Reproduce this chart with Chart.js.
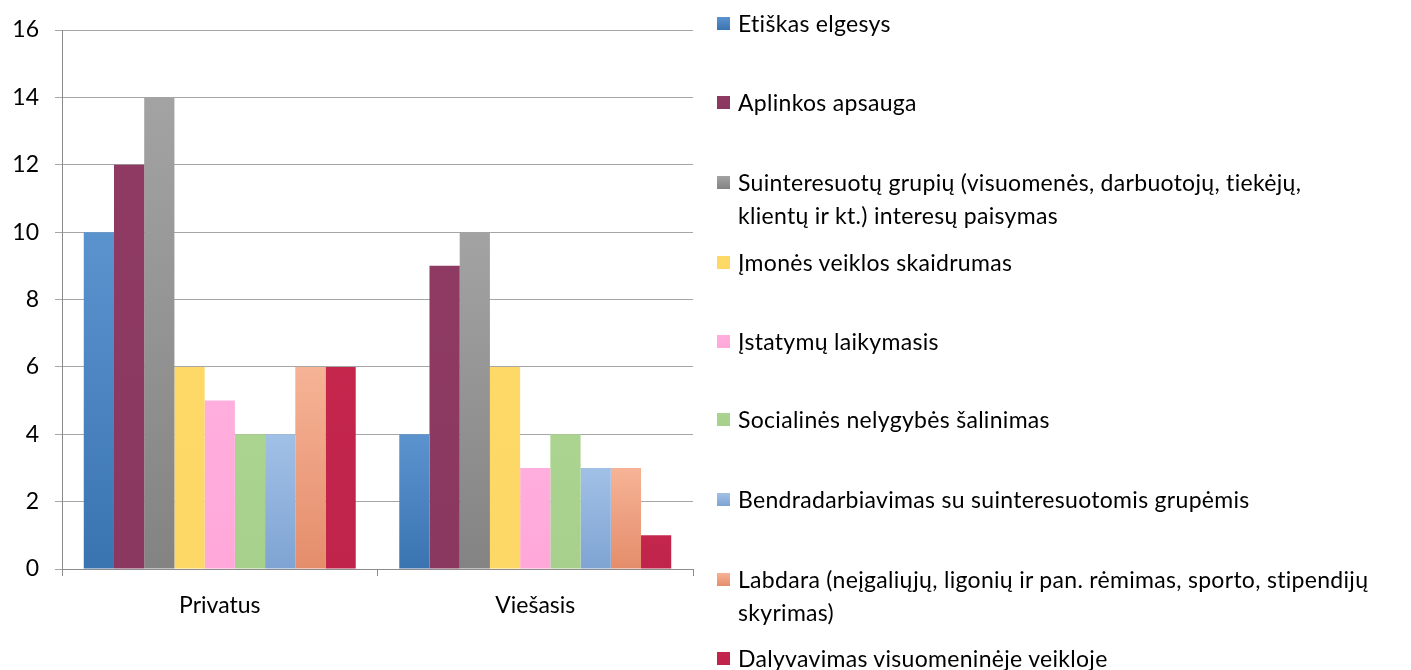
<!DOCTYPE html>
<html>
<head>
<meta charset="utf-8">
<script src="https://cdn.jsdelivr.net/npm/chart.js@4.4.1/dist/chart.umd.min.js"></script>
<style>
  body { margin: 0; background: #fff; }
  #wrap { position: relative; width: 1411px; height: 670px; }
  #legend { position: absolute; left: 0; top: 0; font-family: Lato, "Open Sans", sans-serif; font-size: 23px; letter-spacing: 0.3px; color: #000; }
  .item { position: absolute; left: 717px; width: 700px; line-height: 33px; white-space: nowrap; }
  .item i { position: absolute; left: 0; top: 10px; width: 13px; height: 13px; }
  .item span { display: block; margin-left: 21px; }
</style>
</head>
<body>
<div id="wrap">
  <canvas id="myChart" width="1411" height="670"></canvas>
  <div id="legend"></div>
</div>
<script>
const categories = ['Privatus', 'Viešasis']

const seriesNames = [
  'Etiškas elgesys',
  'Aplinkos apsauga',
  'Suinteresuotų grupių (visuomenės, darbuotojų, tiekėjų, klientų ir kt.) interesų paisymas',
  'Įmonės veiklos skaidrumas',
  'Įstatymų laikymasis',
  'Socialinės nelygybės šalinimas',
  'Bendradarbiavimas su suinteresuotomis grupėmis',
  'Labdara (neįgaliųjų, ligonių ir pan. rėmimas, sporto, stipendijų skyrimas)',
  'Dalyvavimas visuomeninėje veikloje'
]

const privatus = [10, 12, 14, 6, 5, 4, 4, 6, 6]
const viesasis = [4, 9, 10, 6, 3, 4, 3, 3, 1]

const yTicks = [0, 2, 4, 6, 8, 10, 12, 14, 16]

// top / bottom gradient colours per series
const colorsTop = ['#5b93cf', '#8e3a63', '#a3a3a3', '#fed968', '#ffaedd', '#abd490', '#a1c0e6', '#f6b396', '#c4264c']
const colorsBottom = ['#3a74b0', '#8b3861', '#838383', '#fdd866', '#ffa8d9', '#a8d08d', '#7fa4d3', '#e48d6b', '#c0244a']

// legend rows (top px) and line breaks
const legendTops = [7, 86, 166, 246, 325, 403, 483, 563, 642]
const legendLabels = [
  'Etiškas elgesys',
  'Aplinkos apsauga',
  'Suinteresuotų grupių (visuomenės, darbuotojų, tiekėjų,<br>klientų ir kt.) interesų paisymas',
  'Įmonės veiklos skaidrumas',
  'Įstatymų laikymasis',
  'Socialinės nelygybės šalinimas',
  'Bendradarbiavimas su suinteresuotomis grupėmis',
  'Labdara (neįgaliųjų, ligonių ir pan. rėmimas, sporto, stipendijų<br>skyrimas)',
  'Dalyvavimas visuomeninėje veikloje'
]

const legendEl = document.getElementById('legend')
legendLabels.forEach((txt, i) => {
  const d = document.createElement('div')
  d.className = 'item'
  d.style.top = legendTops[i] + 'px'
  d.innerHTML = `<i style="background:linear-gradient(${colorsTop[i]},${colorsBottom[i]})"></i><span>${txt}</span>`
  legendEl.appendChild(d)
})

const barFill = (i) => (context) => {
  const chart = context.chart
  const area = chart.chartArea
  if (!area || context.parsed == null) return colorsBottom[i]
  const y = chart.scales.y
  const top = y.getPixelForValue(context.parsed.y)
  const bottom = y.getPixelForValue(0)
  if (bottom - top < 1) return colorsBottom[i]
  const g = chart.ctx.createLinearGradient(0, top, 0, bottom)
  g.addColorStop(0, colorsTop[i])
  g.addColorStop(1, colorsBottom[i])
  return g
}

const ctx = document.getElementById('myChart').getContext('2d')
const font = { family: 'Lato, "Open Sans", sans-serif', size: 23 }

new Chart(ctx, {
  type: 'bar',
  data: {
    labels: categories,
    datasets: seriesNames.map((name, i) => ({
      label: name,
      data: [privatus[i], viesasis[i]],
      backgroundColor: barFill(i),
      borderWidth: 0,
      barPercentage: 1,
      categoryPercentage: 0.862
    }))
  },
  options: {
    responsive: false,
    animation: false,
    events: [],
    layout: { padding: { left: 0, top: 30, right: 718, bottom: 0 } },
    plugins: { legend: { display: false }, tooltip: { enabled: false } },
    scales: {
      x: {
        offset: true,
        grid: { offset: true, drawOnChartArea: false, drawTicks: true, tickLength: 7, color: '#8c8c8c' },
        border: { color: '#8c8c8c', width: 1 },
        ticks: { font, color: '#000', padding: 16 },
        afterFit: (s) => { s.height = 101 }
      },
      y: {
        min: 0,
        max: 16,
        afterBuildTicks: (s) => { s.ticks = yTicks.map(v => ({ value: v })) },
        grid: { color: '#a6a6a6', tickLength: 7, lineWidth: 1 },
        border: { color: '#8c8c8c', width: 1 },
        ticks: { font, color: '#000', padding: 16 },
        afterFit: (s) => { s.width = 62 }
      }
    }
  }
})
</script>
</body>
</html>
